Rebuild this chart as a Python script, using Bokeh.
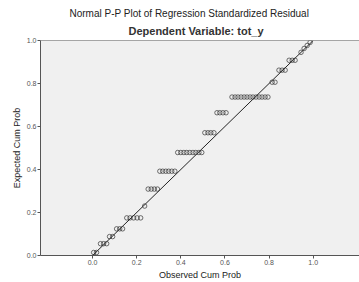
from bokeh.plotting import figure
from bokeh.models import Title, Span, Range1d, FixedTicker, ColumnDataSource
from bokeh.embed import file_html
from bokeh.resources import INLINE

title_main = "Normal P-P Plot of Regression Standardized Residual"
title_sub = "Dependent Variable: tot_y"
x_label = "Observed Cum Prob"
y_label = "Expected Cum Prob"
tick_values = [0.0, 0.2, 0.4, 0.6, 0.8, 1.0]
tick_labels = ["0.0", "0.2", "0.4", "0.6", "0.8", "1.0"]

observed = [0.005, 0.018,
            0.036, 0.050, 0.064,
            0.077, 0.091,
            0.109, 0.123, 0.136,
            0.155, 0.170, 0.186, 0.202, 0.218,
            0.236,
            0.252, 0.266, 0.280, 0.294,
            0.305, 0.318, 0.332, 0.345, 0.359, 0.373,
            0.386, 0.400, 0.414, 0.427, 0.441, 0.455, 0.468, 0.482, 0.495,
            0.509, 0.523, 0.536, 0.550,
            0.564, 0.577, 0.591, 0.605,
            0.632, 0.646, 0.659, 0.673, 0.687, 0.700, 0.714, 0.727, 0.741, 0.755, 0.768, 0.782, 0.795,
            0.814, 0.827,
            0.845, 0.859, 0.873,
            0.891, 0.905, 0.918,
            0.945, 0.959, 0.973, 0.986]
expected = [0.014, 0.014,
            0.055, 0.055, 0.055,
            0.088, 0.088,
            0.124, 0.124, 0.124,
            0.175, 0.175, 0.175, 0.175, 0.175,
            0.230,
            0.309, 0.309, 0.309, 0.309,
            0.392, 0.392, 0.392, 0.392, 0.392, 0.392,
            0.479, 0.479, 0.479, 0.479, 0.479, 0.479, 0.479, 0.479, 0.479,
            0.571, 0.571, 0.571, 0.571,
            0.664, 0.664, 0.664, 0.664,
            0.737, 0.737, 0.737, 0.737, 0.737, 0.737, 0.737, 0.737, 0.737, 0.737, 0.737, 0.737, 0.737,
            0.806, 0.806,
            0.862, 0.862, 0.862,
            0.908, 0.908, 0.908,
            0.945, 0.963, 0.977, 0.991]
diag = [0.0, 1.0]

FONT = "Liberation Sans"

p = figure(width=359, height=282, output_backend="svg", toolbar_location=None,
           x_range=Range1d(-0.236, 1.21), y_range=Range1d(0.0, 1.0),
           min_border_left=40, min_border_right=0, min_border_top=40, min_border_bottom=25)

p.title.text = title_main
p.title.align = "left"
p.title.offset = 29
p.title.text_font = FONT
p.title.text_font_size = "10px"
p.title.text_font_style = "normal"
p.title.text_color = "#222222"
p.title.standoff = 0
p.add_layout(Title(text=title_sub, align="left", offset=88, text_font=FONT,
                   text_font_size="11px", text_font_style="bold",
                   text_color="#333333", standoff=8), "above")

p.background_fill_color = "#f0f0f0"
p.border_fill_color = "white"
p.outline_line_color = None
p.grid.visible = False

p.add_layout(Span(location=1.0, dimension="width", line_color="#555555", line_width=1))

for ax in (p.xaxis[0], p.yaxis[0]):
    ax.ticker = FixedTicker(ticks=tick_values)
    ax.major_label_overrides = {v: s for v, s in zip(tick_values, tick_labels)}
    ax.axis_line_color = "#555555"
    ax.major_tick_line_color = "#555555"
    ax.major_tick_in = 0
    ax.major_tick_out = 3
    ax.minor_tick_line_color = None
    ax.major_label_text_font = FONT
    ax.major_label_text_font_size = "7px"
    ax.major_label_text_color = "#555555"
    ax.major_label_standoff = 1
    ax.axis_label_text_font = FONT
    ax.axis_label_text_font_size = "9px"
    ax.axis_label_text_font_style = "normal"
    ax.axis_label_text_color = "#222222"
    ax.axis_label_standoff = 2

p.xaxis.axis_label = x_label
p.yaxis.axis_label = y_label

p.line(diag, diag, line_color="#222222", line_width=1)
src = ColumnDataSource(dict(x=observed, y=expected))
p.scatter("x", "y", source=src, marker="circle", size=4.5, fill_color=None,
          line_color="#333333", line_width=0.7)

open("out.html", "w").write(file_html(p, INLINE))
